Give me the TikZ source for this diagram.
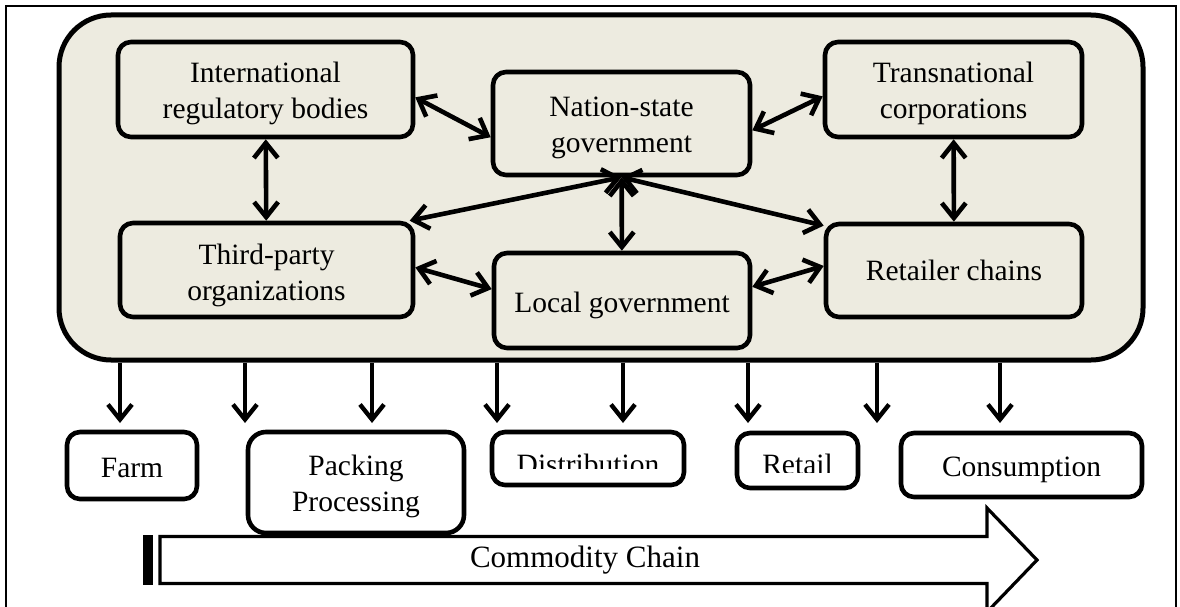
\documentclass[tikz,border=0pt]{standalone}
\usepackage{fontspec}
\setmainfont{Liberation Serif}
\usetikzlibrary{arrows.meta}
\definecolor{panelfill}{HTML}{EDEBE0}
\begin{document}
\begin{tikzpicture}[x=1pt,y=-1pt,
  >={Straight Barb[length=15pt,width=24pt]},
  every node/.style={font=\fontsize{29.5}{36}\selectfont, align=center, inner sep=0pt},
  actor/.style={draw, line width=4.6pt, rounded corners=13pt, fill=panelfill},
  stagebox/.style={draw, line width=4.6pt, rounded corners=13pt, fill=white},
  link/.style={<->, line width=4.6pt},
  feed/.style={->, line width=4.4pt},
]
\useasboundingbox (0,0) rectangle (1180,607);
\clip (0,0) rectangle (1180,607);

% outer frame
\draw[line width=1.8pt] (6,640) -- (6,6) -- (1176,6) -- (1176,640);

% governance panel
\node[draw, line width=5pt, rounded corners=52pt, fill=panelfill,
      minimum width=1084pt, minimum height=345pt] (panel) at (601,187.5) {};

% actors
\node[actor, minimum width=295pt, minimum height=95pt]  (irb) at (265.5,89.5) {};
\node[actor, minimum width=257pt, minimum height=103pt] (nsg) at (621.5,123.5) {};
\node[actor, minimum width=257pt, minimum height=95pt]  (tc)  at (953.5,89.5) {};
\node[actor, minimum width=293pt, minimum height=94pt]  (tpo) at (266.5,270) {};
\node[actor, minimum width=256pt, minimum height=95pt]  (lg)  at (622,300.5) {};
\node[actor, minimum width=256pt, minimum height=93pt]  (rc)  at (954,270.5) {};
\node (irblabel) at ([yshift=-4pt]irb.center) {International\\regulatory bodies};
\node (nsglabel) at ([yshift=-4pt]nsg.center) {Nation-state\\government};
\node (tclabel)  at ([yshift=-4pt]tc.center)  {Transnational\\corporations};
\node (tpolabel) at ([yshift=-5pt]tpo.center) {Third-party\\organizations};
\node[anchor=base] (lglabel) at ([yshift=-12pt]lg.center) {Local government};
\node[anchor=base] (rclabel) at ([yshift=-10pt]rc.center) {Retailer chains};

% relations between actors
\draw[link] (irb.-3) -- (nsg.186.4);
\draw[link] (nsg.-3.8) -- (tc.183.3);
\draw[link] (irb) -- (tpo);
\draw[link] (tc) -- (rc);
\draw[link] (nsg.south) -- (tpo.19.1);
\draw[link] (nsg.south) -- (rc.161.4);
\draw[link] (nsg) -- (lg);
\draw[link] (tpo.1.2) -- (lg.175.3);
\draw[link] (lg.6) -- (rc.178.9);

% influence on the chain
\foreach \i/\x in {1/120,2/245,3/372,4/497,5/623,6/748,7/877,8/1000}{
  \coordinate (t\i) at (\x,423);
  \draw[feed] (panel.south -| t\i) -- (t\i);
}

% stages of the chain
\node[stagebox, minimum width=130pt, minimum height=67pt] (farm) at (132,465.5) {};
\node[anchor=base] (farmlabel) at (132,477) {Farm};
\node[stagebox, rounded corners=18pt, minimum width=216pt, minimum height=101pt] (pack) at (356,482.5) {};
\node (packlabel) at ([yshift=-4pt]pack.center) {Packing\\Processing};
\node[stagebox, minimum width=192pt, minimum height=53pt] (dist) at (588,458.5) {};
\node[stagebox, minimum width=121pt, minimum height=55pt] (retail) at (797.5,460.5) {};
\node[stagebox, minimum width=241pt, minimum height=64pt] (cons) at (1021.5,465) {};
\node[anchor=base] (conslabel) at (1021.5,476) {Consumption};
\begin{scope}
  \clip (492,432) rectangle (684,468);
  \node[anchor=base] (distlabel) at (588,474) {Distribution};
\end{scope}
\begin{scope}
  \clip (737,433) rectangle (858,472);
  \node[anchor=base] (retaillabel) at (797.5,474) {Retail};
\end{scope}

% commodity chain arrow
\fill (143,535) rectangle (153,585);
\draw[line width=3.2pt, fill=white] (160,536.5) -- (987,536.5) -- (987,508) -- (1037,560)
  -- (987,612) -- (987,583.5) -- (160,583.5) -- cycle;
\node[anchor=base, font=\fontsize{31}{37}\selectfont] (chain) at (585,567) {Commodity Chain};
\end{tikzpicture}
\end{document}
